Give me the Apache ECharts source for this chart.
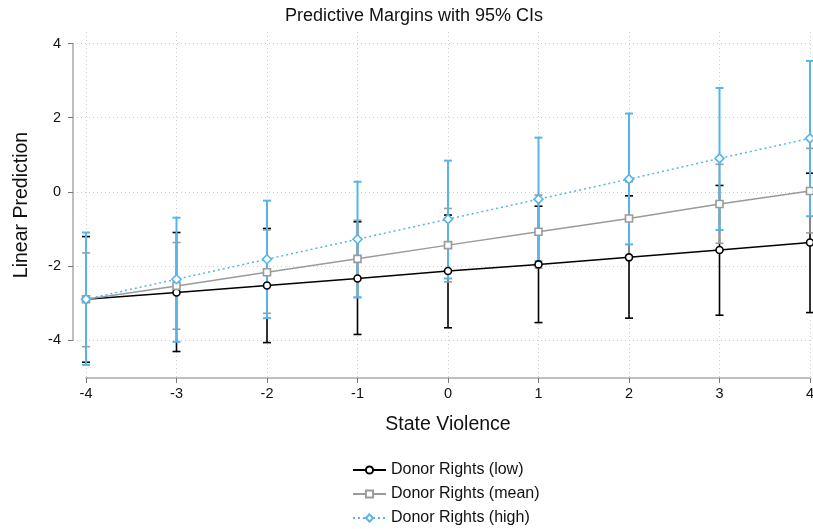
<!DOCTYPE html>
<html>
<head>
<meta charset="utf-8">
<script src="https://cdn.jsdelivr.net/npm/echarts@6/dist/echarts.min.js"></script>
<style>html,body{margin:0;padding:0;background:#fff;overflow:hidden}#c{width:813px;height:529px}</style>
</head>
<body>
<div id="c"></div>
<script>
var xs = [-4, -3, -2, -1, 0, 1, 2, 3, 4];
var xTicks = ['-4', '-3', '-2', '-1', '0', '1', '2', '3', '4'];
var yTicks = [-4, -2, 0, 2, 4];

var lowMargin = [-2.90, -2.72, -2.53, -2.34, -2.14, -1.96, -1.77, -1.57, -1.37];
var lowUpper  = [-1.21, -1.10, -0.99, -0.81, -0.63, -0.39, -0.11, 0.17, 0.50];
var lowLower  = [-4.60, -4.31, -4.07, -3.85, -3.67, -3.53, -3.41, -3.33, -3.26];

var meanMargin = [-2.90, -2.54, -2.17, -1.81, -1.44, -1.08, -0.72, -0.33, 0.02];
var meanUpper  = [-1.65, -1.37, -1.03, -0.77, -0.45, -0.09, 0.27, 0.74, 1.17];
var meanLower  = [-4.18, -3.71, -3.28, -2.85, -2.43, -2.06, -1.72, -1.39, -1.11];

var highMargin = [-2.90, -2.36, -1.82, -1.28, -0.74, -0.20, 0.34, 0.90, 1.44];
var highUpper  = [-1.10, -0.70, -0.24, 0.27, 0.84, 1.46, 2.11, 2.80, 3.53];
var highLower  = [-4.67, -4.05, -3.41, -2.85, -2.34, -1.87, -1.42, -1.03, -0.66];

var names = ['Donor Rights (low)', 'Donor Rights (mean)', 'Donor Rights (high)'];
var colors = ['#000000', '#9a9a9a', '#56b4e9'];
var FONT = '"Liberation Sans", Arial, sans-serif';

function pairs(ys) { return xs.map(function (x, i) { return [x, ys[i]]; }); }
function triples(lo, hi) { return xs.map(function (x, i) { return [x, lo[i], hi[i]]; }); }

function capSeries(name, lo, hi, color, width) {
  return {
    type: 'custom', name: name + ' CI', xAxisIndex: 0, yAxisIndex: 0, z: 1,
    silent: true,
    data: triples(lo, hi),
    encode: { x: 0, y: [1, 2] },
    renderItem: function (params, api) {
      var x = api.value(0);
      var p1 = api.coord([x, api.value(1)]);
      var p2 = api.coord([x, api.value(2)]);
      var hw = 4;
      var st = { stroke: color, lineWidth: width };
      return {
        type: 'group',
        children: [
          { type: 'line', shape: { x1: p1[0], y1: p1[1], x2: p2[0], y2: p2[1] }, style: st },
          { type: 'line', shape: { x1: p1[0] - hw, y1: p1[1], x2: p1[0] + hw, y2: p1[1] }, style: st },
          { type: 'line', shape: { x1: p2[0] - hw, y1: p2[1], x2: p2[0] + hw, y2: p2[1] }, style: st }
        ]
      };
    }
  };
}

function lineSeries(name, ys, color, symbol, size, dash) {
  return {
    type: 'line', name: name, xAxisIndex: 0, yAxisIndex: 0, z: 5,
    data: pairs(ys),
    symbol: symbol, symbolSize: size, showAllSymbol: true,
    lineStyle: { color: color, width: 1.5, type: dash || 'solid' },
    itemStyle: { color: '#ffffff', borderColor: color, borderWidth: 1.6 },
    emphasis: { disabled: true },
    animation: false
  };
}

var chart = echarts.init(document.getElementById('c'), null, { renderer: 'canvas' });
chart.setOption({
  animation: false,
  backgroundColor: '#ffffff',
  textStyle: { fontFamily: FONT },
  title: {
    text: 'Predictive Margins with 95% CIs',
    left: 285, top: 7, padding: 0,
    textStyle: { fontFamily: FONT, fontSize: 18, fontWeight: 'normal', color: '#111' }
  },
  legend: {
    data: names,
    orient: 'vertical',
    left: 352, top: 462, padding: 0,
    itemWidth: 33, itemHeight: 9, itemGap: 8,
    textStyle: { fontFamily: FONT, fontSize: 16, color: '#111' }
  },
  grid: [
    { left: 86, width: 724, top: 32, height: 346, outerBoundsMode: 'none', containLabel: false },
    { left: 73, right: 0, top: 43.5, height: 296.5, outerBoundsMode: 'none', containLabel: false }
  ],
  xAxis: [
    {
      gridIndex: 0, type: 'value', min: -4, max: 4, interval: 1,
      name: 'State Violence', nameLocation: 'middle', nameGap: 37,
      nameTextStyle: { fontFamily: FONT, fontSize: 19.5, color: '#111' },
      axisLine: { show: true, onZero: false, lineStyle: { color: '#aaaaaa', width: 1.5 } },
      axisTick: { show: true, length: 5, lineStyle: { color: '#777777' } },
      axisLabel: {
        fontFamily: FONT, fontSize: 14.5, color: '#111', margin: 8,
        formatter: function (v) { return xTicks[xs.indexOf(v)] || ''; }
      },
      splitLine: { show: true, lineStyle: { color: '#cccccc', type: [1, 3], width: 1 } }
    },
    {
      gridIndex: 1, type: 'value', min: 0, max: 1, show: false
    }
  ],
  yAxis: [
    {
      gridIndex: 0, type: 'value', min: -5.025, max: 4.31, show: true,
      name: 'Linear Prediction', nameLocation: 'middle', nameGap: 54,
      nameTextStyle: { fontFamily: FONT, fontSize: 19.5, color: '#111' },
      axisLine: { show: false }, axisTick: { show: false }, axisLabel: { show: false },
      splitLine: { show: false }
    },
    {
      gridIndex: 1, type: 'value', min: yTicks[0], max: yTicks[yTicks.length - 1], interval: 2,
      axisLine: { show: true, lineStyle: { color: '#aaaaaa', width: 1.5 } },
      axisTick: { show: true, length: 5, lineStyle: { color: '#777777' } },
      axisLabel: { fontFamily: FONT, fontSize: 14.5, color: '#111', margin: 12 },
      splitLine: { show: true, lineStyle: { color: '#cccccc', type: [1, 3], width: 1 } }
    }
  ],
  series: [
    capSeries(names[0], lowLower, lowUpper, colors[0], 1.6),
    capSeries(names[1], meanLower, meanUpper, colors[1], 1.6),
    capSeries(names[2], highLower, highUpper, colors[2], 2),
    lineSeries(names[0], lowMargin, colors[0], 'circle', 7),
    lineSeries(names[1], meanMargin, colors[1], 'rect', 7),
    lineSeries(names[2], highMargin, colors[2], 'diamond', 9, [2, 3])
  ]
});
</script>
</body>
</html>
